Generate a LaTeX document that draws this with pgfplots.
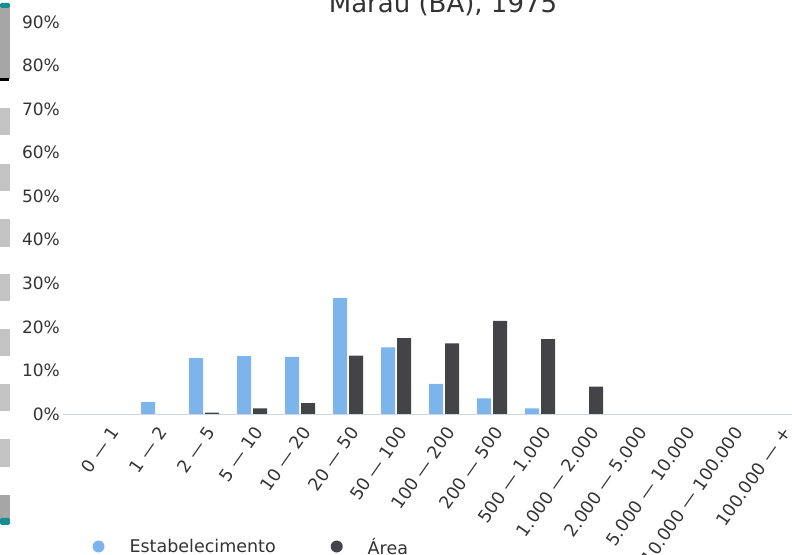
\documentclass[border=0pt]{standalone}
\usepackage{fontspec}
\setmainfont{DejaVu Sans}
\usepackage{pgfplots}
\pgfplotsset{compat=1.18}
\definecolor{cblue}{HTML}{7CB5EC}
\definecolor{cdark}{HTML}{434348}
\definecolor{ctext}{HTML}{333333}
\definecolor{caxis}{HTML}{CCD6EB}
\definecolor{sdark}{HTML}{A6A6A6}
\definecolor{slight}{HTML}{C3C3C3}
\definecolor{steal}{HTML}{168E8F}
\pgfplotsset{dotlegend/.style={legend image code/.code={\path[fill=none,draw=none] (-5bp,-5bp) rectangle (31bp,5bp); \fill[#1] (0bp,0.5bp) circle (6bp);}}}
\begin{document}
\begin{tikzpicture}
\path[use as bounding box] (0,0) rectangle (792bp,555bp);
% left strip decoration
\fill[sdark] (0bp,555bp-79bp) rectangle (10bp,555bp-5bp);
\fill[steal, rounded corners=1.5bp] (0bp,555bp-8bp) rectangle (10bp,555bp-3bp);
\fill[black] (0bp,555bp-81bp) rectangle (8.5bp,555bp-78bp);
\foreach \a/\b in {108/135,164/191,219/247,274/301,329/356,384/411,439/467}{
  \fill[slight] (0bp,555bp-\b bp) rectangle (10bp,555bp-\a bp);
}
\fill[sdark] (0bp,555bp-520bp) rectangle (10bp,555bp-495bp);
\fill[steal, rounded corners=1.5bp] (0bp,555bp-525bp) rectangle (10bp,555bp-518bp);
\node[anchor=base, font=\fontsize{26bp}{30bp}\selectfont, text=ctext] at (443bp,542.5bp) {Maraú (BA), 1975};
\begin{axis}[
  at={(63bp,141bp)}, anchor=south west,
  scale only axis, width=729bp, height=392bp,
  xmin=-0.9375, xmax=14.25, ymin=0, ymax=90,
  axis x line=bottom, axis y line=left,
  x axis line style={-, draw=caxis, line width=1bp},
  y axis line style={draw=none},
  major tick length=0pt,
  xtick={0,...,14},
  xticklabels={0 — 1,1 — 2,2 — 5,5 — 10,10 — 20,20 — 50,50 — 100,100 — 200,200 — 500,500 — 1.000,1.000 — 2.000,2.000 — 5.000,5.000 — 10.000,10.000 — 100.000,100.000 — +},
  xticklabel style={font=\fontsize{17.5bp}{20bp}\selectfont, text=ctext, inner sep=0pt, xshift=1bp, yshift=-11bp, rotate=55, anchor=north east},
  ytick={0,10,...,90},
  yticklabels={0\%,10\%,20\%,30\%,40\%,50\%,60\%,70\%,80\%,90\%},
  yticklabel style={font=\fontsize{17bp}{20bp}\selectfont, text=ctext, inner sep=0pt, anchor=east, xshift=-3bp},
  legend columns=2,
  legend style={at={(0.0405,-0.3393)}, anchor=west, draw=none, fill=none, inner sep=0pt, outer sep=0pt,
    font=\fontsize{17.5bp}{20bp}\selectfont, text=ctext, nodes={inner sep=0pt},
    /tikz/every even column/.append style={column sep=55bp}},
]
\addplot[ybar, bar width=14bp, bar shift=-8bp, fill=cblue, draw=none, dotlegend] coordinates {
 (0,0) (1,2.7) (2,12.8) (3,13.3) (4,13.1) (5,26.6) (6,15.3) (7,6.9) (8,3.6) (9,1.3) (10,0) (11,0) (12,0) (13,0) (14,0)};
\addplot[ybar, bar width=14bp, bar shift=8bp, fill=cdark, draw=none, dotlegend] coordinates {
 (0,0) (1,0) (2,0.3) (3,1.3) (4,2.5) (5,13.4) (6,17.4) (7,16.2) (8,21.4) (9,17.2) (10,6.3) (11,0) (12,0) (13,0) (14,0)};
\legend{Estabelecimento,Área}
\end{axis}
\end{tikzpicture}
\end{document}
